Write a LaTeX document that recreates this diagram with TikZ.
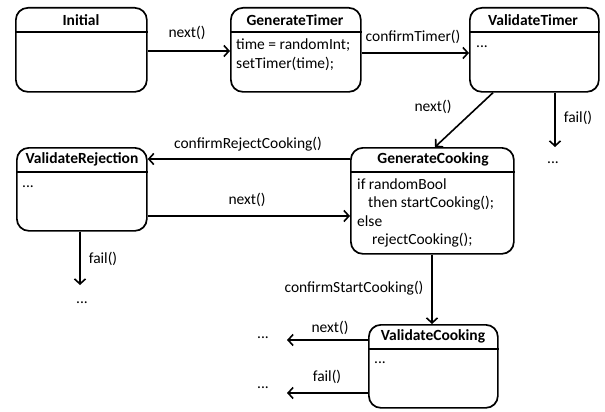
\documentclass[tikz,border=0pt]{standalone}
\usepackage{fontspec}
\setmainfont{Carlito}
\usetikzlibrary{arrows.meta}
\begin{document}
\begin{tikzpicture}[x=1pt,y=-1pt,
  state/.style={draw, line width=1.7pt, rounded corners=12pt, anchor=north west, inner sep=0pt},
  hdr/.style={font=\fontsize{15.5}{18}\selectfont\bfseries, inner sep=0pt},
  body/.style={font=\fontsize{15.5}{18}\selectfont, anchor=base west, inner sep=0pt},
  lbl/.style={font=\fontsize{15.5}{18}\selectfont, inner sep=0pt},
  sep/.style={line width=1.7pt},
  arr/.style={line width=1.6pt, -{Straight Barb[length=5pt,width=11pt,line width=1.6pt]}}
]
\useasboundingbox (0,0) rectangle (605,412);

% states
\node[state, minimum width=131pt, minimum height=84pt] (init) at (15,7) {};
\node[state, minimum width=130pt, minimum height=84pt] (gt) at (230,7) {};
\node[state, minimum width=129pt, minimum height=84pt] (vt) at (469,7) {};
\node[state, minimum width=130pt, minimum height=83pt] (vr) at (16,147) {};
\node[state, minimum width=163pt, minimum height=106pt] (gc) at (350,147) {};
\node[state, minimum width=129pt, minimum height=83pt] (vc) at (368,324) {};

% header separators
\draw[sep] (init.west |- 0,32) -- (init.east |- 0,32);
\draw[sep] (gt.west |- 0,32) -- (gt.east |- 0,32);
\draw[sep] (vt.west |- 0,32) -- (vt.east |- 0,32);
\draw[sep] (vr.west |- 0,172) -- (vr.east |- 0,172);
\draw[sep] (gc.west |- 0,172) -- (gc.east |- 0,172);
\draw[sep] (vc.west |- 0,349) -- (vc.east |- 0,349);

% headers
\node[hdr] (hinit) at (81,20) {Initial};
\node[hdr] (hgt) at (295,20) {GenerateTimer};
\node[hdr] (hvt) at (533,20) {ValidateTimer};
\node[hdr] (hvr) at (82,159) {ValidateRejection};
\node[hdr] (hgc) at (433,159) {GenerateCooking};
\node[hdr] (hvc) at (433,336) {ValidateCooking};

% bodies
\node[body] (bgt1) at (236,49) {time = randomInt;};
\node[body] (bgt2) at (236,68) {setTimer(time);};
\node[lbl] (bvt) at (482,47) {...};
\node[lbl] (bvr) at (28,187) {...};
\node[body] (bgc1) at (357,189) {if randomBool};
\node[body] (bgc2) at (368,207.5) {then startCooking();};
\node[body] (bgc3) at (357,226) {else};
\node[body] (bgc4) at (372,244) {rejectCooking();};
\node[lbl] (bvc) at (380,363) {...};

% free ends
\node[lbl] (e1) at (553,163) {...};
\node[lbl] (e2) at (82,303) {...};
\node[lbl] (e3) at (263,338) {...};
\node[lbl] (e4) at (263,388) {...};
\coordinate (c1) at (555,147);
\coordinate (c2) at (80,285);
\coordinate (c3) at (287,340);
\coordinate (c4) at (287,393);

% connectors
\draw[arr] (init.east |- 0,51) -- (gt.west |- 0,51);
\draw[arr] (gt.east |- 0,53) -- (vt.west |- 0,53);
\draw[arr] (vt.south -| 493,0) -- (gc.north -| 435,0);
\draw[arr] (vt.south -| c1) -- (c1);
\draw[arr] (gc.west |- 0,159) -- (vr.east |- 0,159);
\draw[arr] (vr.east |- 0,216) -- (gc.west |- 0,216);
\draw[arr] (vr.south -| c2) -- (c2);
\draw[arr] (gc.south -| 432,0) -- (vc.north -| 432,0);
\draw[arr] (vc.west |- c3) -- (c3);
\draw[arr] (vc.west |- c4) -- (c4);

% labels
\node[lbl] (l1) at (187,33) {next()};
\node[lbl] (l2) at (413,37) {confirmTimer()};
\node[lbl] (l3) at (433,107) {next()};
\node[lbl] (l4) at (578,118) {fail()};
\node[lbl] (l5) at (248,144) {confirmRejectCooking()};
\node[lbl] (l6) at (247,200) {next()};
\node[lbl] (l7) at (103,259) {fail()};
\node[lbl] (l8) at (354,288) {confirmStartCooking()};
\node[lbl] (l9) at (330,328) {next()};
\node[lbl] (l10) at (327,377) {fail()};
\end{tikzpicture}
\end{document}
